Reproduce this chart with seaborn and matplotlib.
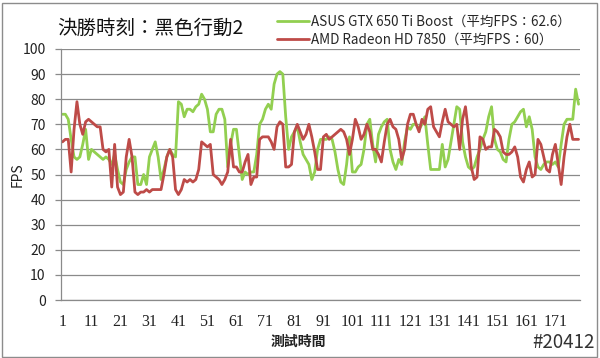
import pandas as pd
import seaborn as sns
import matplotlib.pyplot as plt
from matplotlib.patches import Rectangle

# --- 資料 ---
title = "決勝時刻：黑色行動2"
label_asus = "ASUS GTX 650 Ti Boost（平均FPS：62.6）"
label_amd = "AMD Radeon HD 7850（平均FPS：60）"

asus_fps = [74, 74, 72, 64, 57, 56, 57, 62, 68, 56,
            60, 59, 58, 57, 56, 57, 56, 54, 58, 52,
            47, 46, 52, 55, 57, 57, 46, 46, 50, 46,
            57, 60, 63, 57, 48, 52, 57, 60, 58, 57,
            79, 78, 73, 76, 76, 75, 77, 78, 82, 80,
            76, 67, 67, 74, 76, 76, 72, 53, 62, 68,
            68, 58, 48, 51, 50, 51, 51, 58, 70, 72,
            76, 78, 76, 86, 90, 91, 90, 73, 60, 65,
            67, 69, 63, 58, 56, 54, 48, 51, 60, 64,
            64, 64, 65, 64, 59, 52, 47, 46, 54, 65,
            51, 51, 53, 54, 60, 70, 72, 62, 55, 66,
            69, 71, 72, 60, 55, 52, 56, 54, 63, 69,
            68, 70, 70, 68, 70, 73, 62, 52, 52, 52,
            52, 62, 53, 56, 63, 70, 77, 76, 63, 57,
            53, 52, 53, 57, 60, 64, 67, 73, 77, 64,
            60, 59, 56, 55, 64, 70, 71, 73, 75, 76,
            69, 73, 68, 57, 53, 52, 54, 55, 55, 54,
            55, 53, 62, 70, 72, 72, 72, 84, 78]

amd_fps = [63, 64, 64, 51, 68, 79, 70, 66, 71, 72,
           71, 70, 69, 69, 60, 59, 60, 45, 62, 45,
           42, 43, 57, 64, 57, 43, 42, 43, 43, 44,
           43, 44, 44, 44, 44, 50, 57, 60, 57, 44,
           42, 44, 48, 47, 48, 47, 48, 52, 63, 62,
           61, 62, 50, 49, 48, 46, 48, 51, 64, 53,
           53, 51, 51, 55, 58, 46, 49, 49, 64, 65,
           65, 65, 63, 60, 69, 71, 70, 53, 53, 54,
           67, 70, 67, 64, 66, 70, 65, 59, 52, 52,
           65, 66, 64, 65, 66, 67, 68, 67, 64, 58,
           64, 72, 69, 64, 66, 70, 67, 60, 60, 58,
           55, 63, 70, 72, 69, 68, 64, 56, 60, 70,
           74, 74, 70, 67, 72, 70, 76, 77, 69, 67,
           65, 71, 76, 71, 70, 69, 70, 60, 72, 77,
           67, 53, 48, 49, 65, 64, 60, 61, 61, 68,
           67, 65, 59, 58, 58, 59, 61, 57, 49, 47,
           52, 55, 49, 50, 64, 62, 57, 52, 51, 58,
           62, 54, 46, 57, 65, 70, 64, 64, 64]

time_idx = list(range(1, len(asus_fps) + 1))
xtick_labels = list(range(1, 172, 10))
ytick_values = list(range(0, 101, 10))

df = pd.DataFrame({
    "time": time_idx * 2,
    "fps": asus_fps + amd_fps,
    "card": [label_asus] * len(asus_fps) + [label_amd] * len(amd_fps),
})

sns.set_style("white")
plt.rcParams['font.family'] = ['Noto Sans CJK TC', 'DejaVu Sans']

fig = plt.figure(figsize=(6, 3.58), dpi=100)
ax = fig.add_axes([61 / 600, 1 - 300 / 358, (580 - 61) / 600, (300 - 49) / 358])

sns.lineplot(data=df, x="time", y="fps", hue="card",
             palette={label_asus: "#92CF50", label_amd: "#BE4B48"},
             linewidth=2.0, ax=ax)

handles, labels = ax.get_legend_handles_labels()
ax.get_legend().remove()
fig.legend(handles, labels, loc="center left", bbox_to_anchor=(277 / 600, 1 - 31 / 358),
           frameon=False, fontsize=9.7, handlelength=2.4, handletextpad=0.1,
           labelspacing=0.3, borderpad=0, borderaxespad=0)

ax.set_xlim(0.5, len(asus_fps) + 0.5)
ax.set_ylim(0, 100)
ax.set_yticks(ytick_values)
ax.yaxis.grid(True, color="#8a8a8a", linewidth=0.9)
ax.set_axisbelow(True)
ax.set_xticks(xtick_labels)
ax.set_xticklabels([str(v) for v in xtick_labels], family="Liberation Serif", fontsize=11.5)
ax.tick_params(axis="x", length=0, pad=10, colors="#222222")
ax.tick_params(axis="y", length=4, width=0.9, color="#8a8a8a", pad=7,
               labelsize=10, labelcolor="#222222", left=True)
for side in ["top", "right"]:
    ax.spines[side].set_visible(False)
for side in ["left", "bottom"]:
    ax.spines[side].set_color("#8a8a8a")
    ax.spines[side].set_linewidth(0.9)
ax.set_xlabel("")
ax.set_ylabel("")

fig.text(57 / 600, 1 - 28 / 358, title, fontsize=14, ha="left", va="center", color="#111111")
fig.text(18 / 600, 1 - 175 / 358, "FPS", rotation=90, fontsize=10, ha="center", va="center",
         color="#222222")
fig.text(298 / 600, 1 - 342 / 358, "測試時間", fontsize=10, fontweight="bold", ha="center",
         va="center", color="#222222")
fig.text(595 / 600, 1 - 343 / 358, "#20412", fontsize=13.5, ha="right", va="center",
         color="#333333")

fig.patches.append(Rectangle((2 / 600, 1 / 358), 595 / 600, 354 / 358, transform=fig.transFigure,
                             fill=False, edgecolor="#8c8c8c", linewidth=1))

fig.savefig("out.png", dpi=100)
